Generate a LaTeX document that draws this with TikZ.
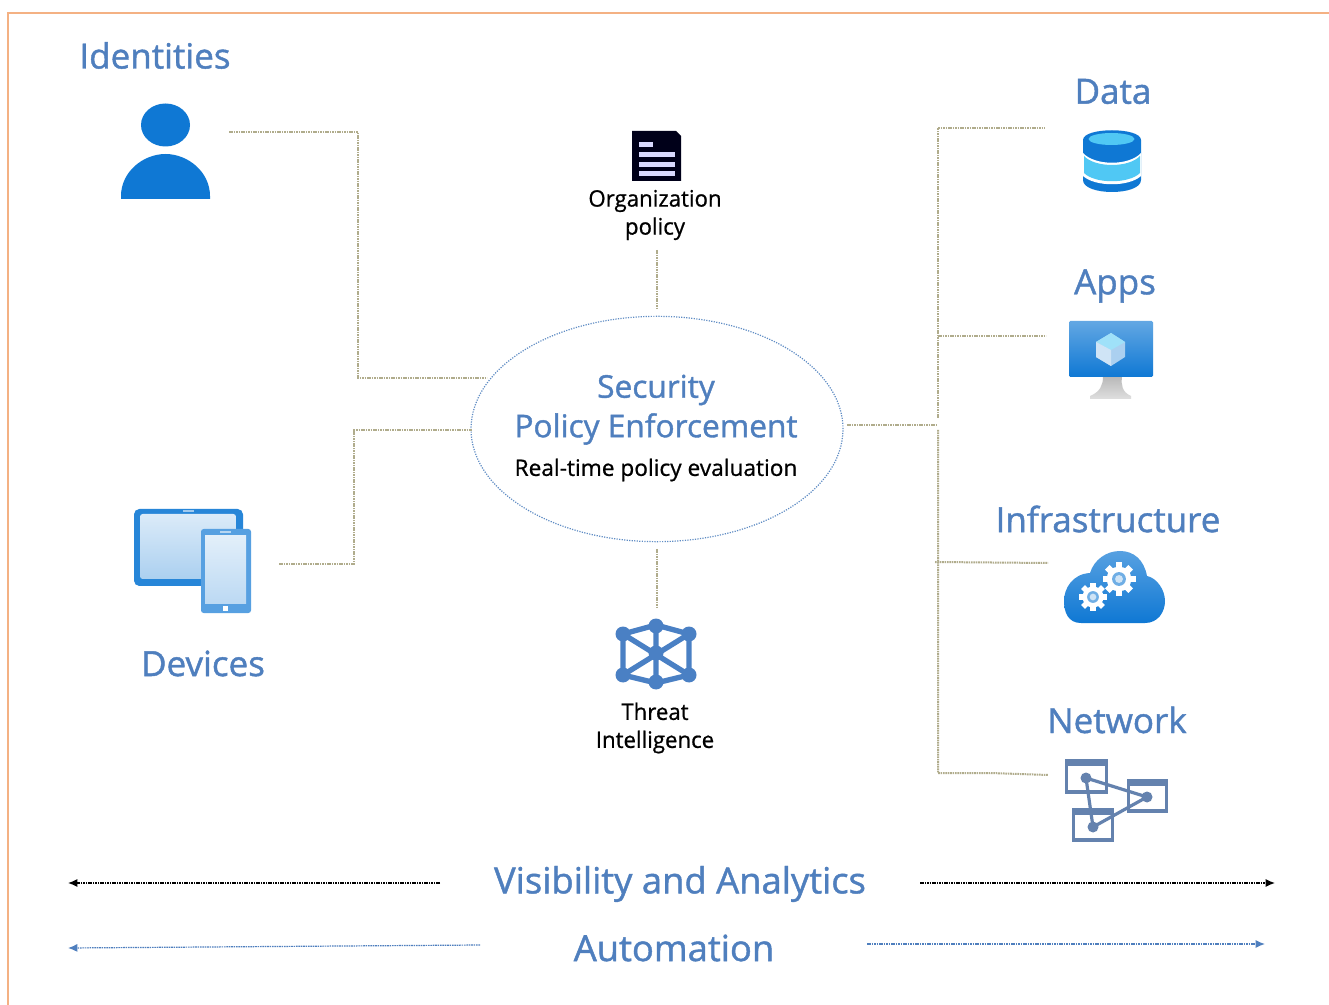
\documentclass[tikz,border=0pt]{standalone}
\usepackage{fontspec}
\setmainfont{Open Sans}
\usetikzlibrary{arrows.meta,shapes.geometric,calc}
\definecolor{lblue}{HTML}{4F7FBE}
\definecolor{azure}{HTML}{0F78D4}
\definecolor{linktan}{HTML}{B0AC8C}
\definecolor{netblue}{HTML}{6482AE}
\definecolor{ellblue}{HTML}{5F8CC4}
\definecolor{frameor}{HTML}{F4B183}
\definecolor{threatblue}{HTML}{4A80C4}
\definecolor{lcyan}{HTML}{50C8F4}
\tikzset{
  head/.style={font=\fontsize{#1}{#1}\selectfont\addfontfeatures{FakeStretch=1.01,FakeBold=1.2},text=lblue,inner sep=0pt,align=center},
  small/.style={font=\fontsize{17}{21}\selectfont\addfontfeatures{FakeStretch=0.98,FakeBold=0.8},text=black,inner sep=0pt,align=center},
  link/.style={draw=linktan,line width=1.5pt,dash pattern=on 1.2pt off 0.6pt},
  bigarrow/.style={line width=0.9pt,dash pattern=on 1.2pt off 0.6pt,-{Latex[length=7pt,width=6pt]}},
}
\newcommand{\gearicon}[3]{% x y r
  \fill[white] (#1,#2) circle ({#3*0.75});
  \foreach \a in {0,45,...,315}{
    \fill[white,rotate around={\a:(#1,#2)}] ({#1-#3*0.2},{#2-#3}) rectangle ({#1+#3*0.2},{#2});
  }
  \fill[azure!60!white] (#1,#2) circle ({#3*0.42});
  \fill[white!80!azure] (#1,#2) circle ({#3*0.24});
}
\begin{document}
\begin{tikzpicture}[x=0.75pt,y=-0.75pt]
\useasboundingbox (0,0) rectangle (1329,1005);
\fill[white] (0,0) rectangle (1329,1005);
% frame
\draw[frameor,line width=0.9pt] (8,1005) -- (8,13) -- (1329,13);

% central ellipse
\node[ellipse,draw=ellblue,line width=0.9pt,densely dotted,minimum width=279pt,minimum height=169pt,inner sep=0pt] (sec) at (657,429) {};
\node[head=23.5] (sect) at (656,390) {Security};
\node[head=23.5] (pol) at (656,429) {Policy Enforcement};
\node[small,font=\fontsize{17}{21}\selectfont\addfontfeatures{FakeBold=0.8}] (rt) at (656,470) {Real-time policy evaluation};

% labels
\node[head=26] (identities) at (155,55.5) {Identities};
\node[head=26] (devices) at (203,663.5) {Devices};
\node[head=26] (data) at (1113,91.5) {Data};
\node[head=26] (apps) at (1115,286) {Apps};
\node[head=26] (infra) at (1108,519) {Infrastructure};
\node[head=26] (network) at (1117,720) {Network};
\node[head=27] (vis) at (680,884) {Visibility and Analytics};
\node[head=27] (auto) at (674,948) {Automation};
\node[small] (org) at (655,215) {Organization\\policy};
\node[small] (threat) at (655,728) {Threat\\Intelligence};

% connector ends
\coordinate (identE) at (229,132);
\coordinate (devE) at (279,564);
\coordinate (orgE) at (657,250);
\coordinate (orgS) at (657,308);
\coordinate (thE) at (657,608);
\coordinate (thS) at (657,549);
\coordinate (elW1) at (487,378);
\coordinate (elW2) at (472,430);
\coordinate (elE) at (847,425);
\coordinate (bus) at (938,425);
\coordinate (dataE) at (1045,128);
\coordinate (appsE) at (1046,336);
\coordinate (infraE) at (1048,563);
\coordinate (netE) at (1048,775);

\draw[link] (identE) -- (358,132) -- (358,378) -- (elW1);
\draw[link] (devE) -- (354,564) -- (354,430) -- (elW2);
\draw[link] (orgE) -- (orgS);
\draw[link] (thS) -- (thE);
\draw[link] (elE) -- (bus);
\draw[link] (938,418) -- (938,128) -- (dataE);
\draw[link] (938,336) -- (appsE);
\draw[link] (938,430) -- (938,773) -- (990,773) -- (netE);
\draw[link] (935,562) -- (infraE);

% bottom arrows
\coordinate (v1) at (440,883); \coordinate (v1e) at (68,883);
\coordinate (v2) at (920,883); \coordinate (v2e) at (1275,883);
\coordinate (a1) at (480,945); \coordinate (a1e) at (68,948);
\coordinate (a2) at (867,944); \coordinate (a2e) at (1265,944);
\draw[bigarrow,black] (v1) -- (v1e);
\draw[bigarrow,black] (v2) -- (v2e);
\draw[bigarrow,lblue] (a1) -- (a1e);
\draw[bigarrow,lblue] (a2) -- (a2e);

% identity icon
\fill[azure] (165.5,125) ellipse (24.5 and 21.5);
\fill[azure] (121,199) -- (121,196) .. controls (121,172) and (143,154) .. (165.5,154) .. controls (188,154) and (210,172) .. (210,196) -- (210,199) -- cycle;

% devices icon
\fill[azure!90!white,rounded corners=4pt] (134,509) rectangle (243,586);
\shade[top color=white!85!azure,bottom color=white!65!azure,rounded corners=2pt] (140,514) rectangle (236,579);
\fill[white!60!azure] (183,510) rectangle (194,512);
\fill[azure!70!white,rounded corners=2pt] (201,529) rectangle (251,613);
\shade[top color=white!88!azure,bottom color=white!72!azure] (205,536) rectangle (246,603);
\fill[white!70!azure] (220,531) rectangle (231,533);
\fill[white] (223,606) rectangle (228,611);

% data icon
\fill[azure] (1083,140) .. controls (1083,127) and (1141,127) .. (1141,140) -- (1141,180) .. controls (1141,196) and (1083,196) .. (1083,180) -- cycle;
\fill[white] (1083,153) .. controls (1095,166) and (1129,166) .. (1141,153) -- (1141,176) .. controls (1129,187) and (1095,187) .. (1083,176) -- cycle;
\fill[lcyan] (1084,156) .. controls (1095,168) and (1129,168) .. (1140,156) -- (1140,173) .. controls (1129,184) and (1095,184) .. (1084,173) -- cycle;
\fill[lcyan] (1111.5,139) ellipse (23 and 6);

% apps icon
\shade[top color=gray!55,bottom color=gray!25] (1103,377) -- (1122,377) .. controls (1121,385) and (1122,392) .. (1131,396) -- (1131,399) -- (1090,399) -- (1090,396) .. controls (1100,392) and (1103,385) .. (1103,377) -- cycle;
\shade[top color=azure!65!white,bottom color=azure,rounded corners=1pt] (1069,321) rectangle (1153,377);
\fill[white!65!azure] (1111,333) -- (1125,342) -- (1125,357) -- (1111,366) -- (1096,357) -- (1096,342) -- cycle;
\fill[lcyan!55!white] (1111,333) -- (1125,342) -- (1111,350) -- (1096,342) -- cycle;
\fill[white!80!azure] (1096,342) -- (1111,350) -- (1111,366) -- (1096,357) -- cycle;

% cloud icon
\shade[top color=azure!70!white,bottom color=azure] (1081,623) .. controls (1068,623) and (1064,612) .. (1064,601) .. controls (1064,589) and (1072,574) .. (1090,573) .. controls (1094,560) and (1106,551) .. (1120,551) .. controls (1134,551) and (1144,560) .. (1147,576) .. controls (1157,578) and (1165,590) .. (1165,601) .. controls (1165,612) and (1158,623) .. (1145,623) -- cycle;
\gearicon{1119}{579}{16.5}
\gearicon{1093}{597}{14}

% network icon
\begin{scope}[netblue]
\draw[line width=2.4pt] (1066.5,761) rectangle (1106.5,792);
\fill (1065,759) rectangle (1108,766);
\draw[line width=2.4pt] (1128.5,781) rectangle (1166.5,811);
\fill (1127,779) rectangle (1168,786);
\draw[line width=2.4pt] (1073.5,810) rectangle (1112.5,840);
\fill (1072,808) rectangle (1114,815);
\draw[line width=2.4pt] (1086,778) -- (1147,797) -- (1093,827) -- cycle;
\fill (1086,778) circle (5.5) (1147,797) circle (5.5) (1093,827) circle (5.5);
\end{scope}

% org policy icon
\fill[black!90!blue] (632,131) -- (676,131) -- (681,136) -- (681,181) -- (632,181) -- cycle;
\fill[white!85!blue] (639,142) rectangle (653,147);
\fill[white!85!blue] (639,152) rectangle (675,157);
\fill[white!85!blue] (639,162) rectangle (675,167);
\fill[white!85!blue] (639,171) rectangle (675,176);

% threat icon
\begin{scope}[threatblue]
\draw[line width=4pt] (623,634) -- (656,625) -- (689,634) -- (689,675) -- (656,683) -- (623,675) -- cycle;
\draw[line width=4pt] (656,625) -- (656,683) (623,634) -- (689,675) (689,634) -- (623,675);
\foreach \p in {(656,626),(623,634),(689,634),(623,675),(689,675),(656,682),(656,653)}
  \fill \p circle (7.5);
\end{scope}
\end{tikzpicture}
\end{document}
